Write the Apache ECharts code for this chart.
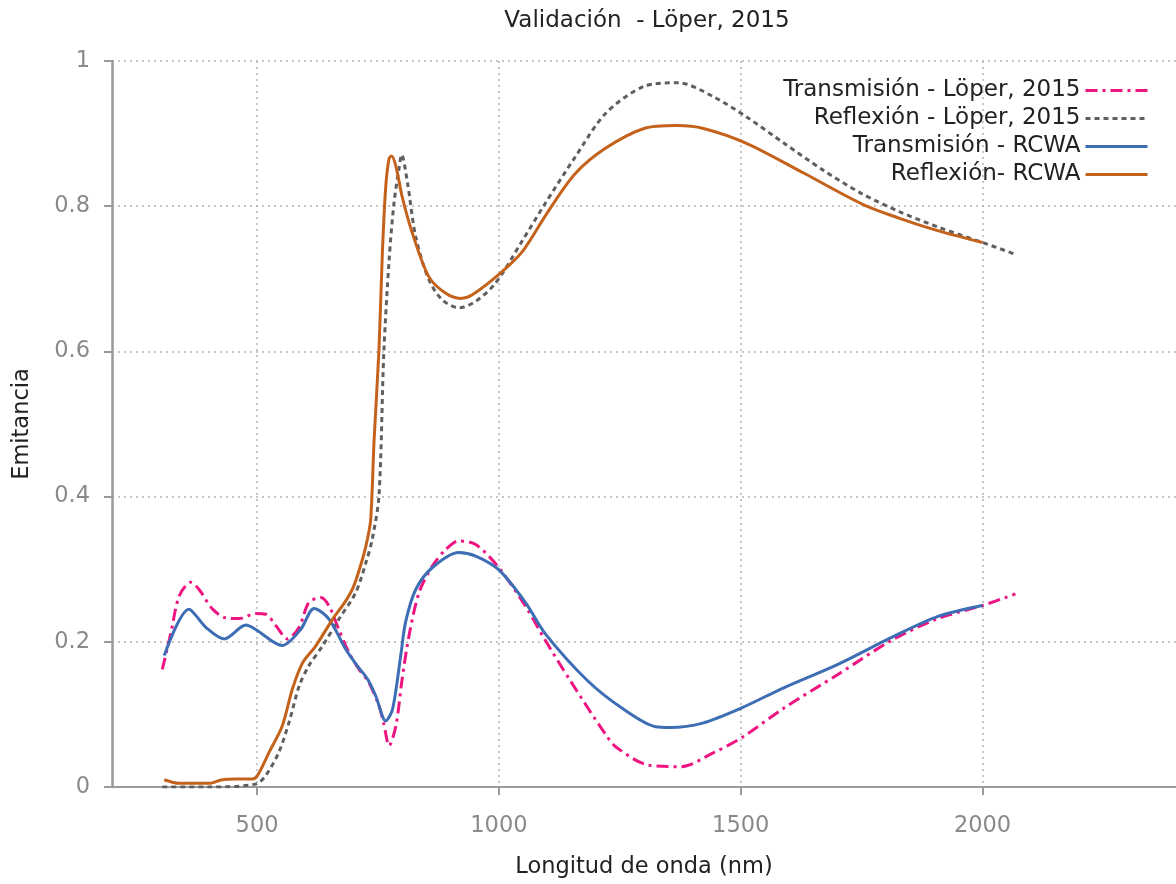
<!DOCTYPE html>
<html>
<head>
<meta charset="utf-8">
<title>Validación - Löper, 2015</title>
<script src="https://cdn.jsdelivr.net/npm/echarts@6/dist/echarts.min.js"></script>
<style>
  html, body { margin: 0; padding: 0; background: #ffffff; }
  #chart { width: 1176px; height: 884px; }
</style>
</head>
<body>
<div id="chart"></div>
<script>
// Wavelength (nm) and emittance pairs for each curve
const transLoperX = [304, 322, 339, 363, 380, 408, 435, 463, 497, 518, 539, 563, 587, 607, 632, 649, 669, 690, 711, 731, 752, 762, 773, 787, 800, 814, 835, 862, 890, 917, 952, 1000, 1055, 1096, 1148, 1221, 1244, 1310, 1376, 1443, 1502, 1590, 1701, 1812, 1908, 2000, 2068];
const transLoperY = [0.162, 0.213, 0.263, 0.282, 0.272, 0.245, 0.233, 0.232, 0.239, 0.238, 0.222, 0.204, 0.220, 0.254, 0.261, 0.249, 0.217, 0.185, 0.162, 0.144, 0.112, 0.087, 0.057, 0.084, 0.149, 0.208, 0.268, 0.304, 0.327, 0.339, 0.334, 0.302, 0.249, 0.202, 0.146, 0.072, 0.054, 0.030, 0.028, 0.047, 0.068, 0.109, 0.155, 0.202, 0.232, 0.250, 0.266];

const reflLoperX = [304, 400, 497, 518, 545, 566, 587, 607, 635, 669, 704, 725, 738, 752, 762, 773, 783, 793, 799, 811, 828, 855, 883, 917, 952, 993, 1048, 1095, 1158, 1221, 1300, 1371, 1443, 1512, 1591, 1672, 1751, 1830, 1909, 2000, 2067];
const reflLoperY = [0.000, 0.000, 0.004, 0.016, 0.048, 0.089, 0.139, 0.167, 0.194, 0.231, 0.268, 0.309, 0.341, 0.401, 0.598, 0.726, 0.804, 0.850, 0.871, 0.832, 0.758, 0.699, 0.671, 0.660, 0.669, 0.694, 0.752, 0.803, 0.868, 0.928, 0.965, 0.970, 0.951, 0.923, 0.886, 0.849, 0.817, 0.792, 0.771, 0.750, 0.734];

const transRcwaX = [308, 359, 394, 432, 477, 497, 552, 590, 618, 649, 683, 707, 728, 745, 766, 780, 797, 807, 828, 862, 917, 952, 1000, 1055, 1096, 1184, 1258, 1324, 1354, 1421, 1502, 1590, 1701, 1812, 1908, 2000];
const transRcwaY = [0.181, 0.245, 0.220, 0.204, 0.223, 0.217, 0.195, 0.217, 0.246, 0.231, 0.190, 0.167, 0.149, 0.126, 0.091, 0.107, 0.181, 0.227, 0.272, 0.302, 0.323, 0.318, 0.299, 0.254, 0.211, 0.146, 0.107, 0.083, 0.082, 0.088, 0.109, 0.137, 0.169, 0.206, 0.235, 0.250];

const reflRcwaX = [308, 339, 401, 428, 456, 490, 501, 525, 552, 573, 594, 621, 656, 683, 700, 718, 728, 735, 742, 752, 759, 766, 773, 778, 787, 800, 821, 855, 890, 921, 945, 1000, 1048, 1103, 1158, 1221, 1300, 1368, 1423, 1514, 1632, 1751, 1830, 1909, 2000];
const reflRcwaY = [0.010, 0.005, 0.005, 0.010, 0.011, 0.011, 0.016, 0.048, 0.084, 0.135, 0.171, 0.194, 0.231, 0.256, 0.277, 0.314, 0.341, 0.369, 0.479, 0.602, 0.735, 0.827, 0.866, 0.869, 0.855, 0.813, 0.763, 0.703, 0.680, 0.673, 0.678, 0.706, 0.737, 0.794, 0.845, 0.880, 0.907, 0.911, 0.907, 0.886, 0.845, 0.803, 0.783, 0.766, 0.750];

const seriesNames = ['Transmisión - Löper, 2015', 'Reflexión - Löper, 2015', 'Transmisión - RCWA', 'Reflexión- RCWA'];
const xTicks = [500, 1000, 1500, 2000];

const pairs = (xs, ys) => xs.map((x, i) => [x, ys[i]]);

const FONT = 'DejaVu Sans';
const chart = echarts.init(document.getElementById('chart'), null, { renderer: 'canvas' });

const lineSeries = (name, data, color, dash) => ({
  name: name,
  type: 'line',
  data: data,
  showSymbol: false,
  symbol: 'none',
  smooth: 0.3,
  clip: true,
  lineStyle: { color: color, width: 3, type: dash },
  itemStyle: { color: color },
  emphasis: { disabled: true }
});

chart.setOption({
  animation: false,
  backgroundColor: '#ffffff',
  title: {
    text: 'Validación  - Löper, 2015',
    left: 642,
    top: 5,
    textAlign: 'center',
    textStyle: { fontFamily: FONT, fontSize: 23, fontWeight: 'normal', color: '#222222' }
  },
  legend: {
    orient: 'vertical',
    right: 22,
    top: 74,
    align: 'right',
    itemWidth: 62,
    itemHeight: 14,
    itemGap: 5,
    itemStyle: { color: 'transparent', borderWidth: 0, opacity: 0 },
    lineStyle: { width: 3 },
    textStyle: { fontFamily: FONT, fontSize: 23, color: '#222222', lineHeight: 23 },
    data: seriesNames
  },
  grid: { left: 112, right: 0, top: 61, bottom: 96, containLabel: false },
  xAxis: {
    type: 'value',
    min: 200,
    max: 2400,
    name: 'Longitud de onda (nm)',
    nameLocation: 'middle',
    nameGap: 69,
    nameTextStyle: { fontFamily: FONT, fontSize: 22.5, color: '#222222' },
    axisLine: { show: true, lineStyle: { color: '#9a9a9a', width: 2 } },
    axisTick: { show: true, length: 8, customValues: xTicks, lineStyle: { color: '#9a9a9a', width: 2 } },
    axisLabel: { customValues: xTicks, margin: 28, fontFamily: FONT, fontSize: 22.5, color: '#8a8a8a', formatter: v => String(v) },
    splitLine: { show: true, lineStyle: { color: '#b4b4b4', width: 1.5, type: [2, 4] } }
  },
  yAxis: {
    type: 'value',
    min: 0,
    max: 1,
    interval: 0.2,
    name: 'Emitancia',
    nameLocation: 'middle',
    nameGap: 78,
    nameTextStyle: { fontFamily: FONT, fontSize: 22.5, color: '#222222' },
    axisLine: { show: true, lineStyle: { color: '#9a9a9a', width: 2.5 } },
    axisTick: { show: true, length: 8, lineStyle: { color: '#9a9a9a', width: 2 } },
    axisLabel: { margin: 22, fontFamily: FONT, fontSize: 22.5, color: '#8a8a8a', formatter: v => String(v) },
    splitLine: { show: true, lineStyle: { color: '#b4b4b4', width: 1.5, type: [2, 4] } }
  },
  series: [
    lineSeries(seriesNames[0], pairs(transLoperX, transLoperY), '#ee1583', [12, 5, 3, 5]),
    lineSeries(seriesNames[1], pairs(reflLoperX, reflLoperY), '#5f5f5f', [5, 4]),
    lineSeries(seriesNames[2], pairs(transRcwaX, transRcwaY), '#3d6db4', 'solid'),
    lineSeries(seriesNames[3], pairs(reflRcwaX, reflRcwaY), '#c4621c', 'solid')
  ]
});
</script>
</body>
</html>
